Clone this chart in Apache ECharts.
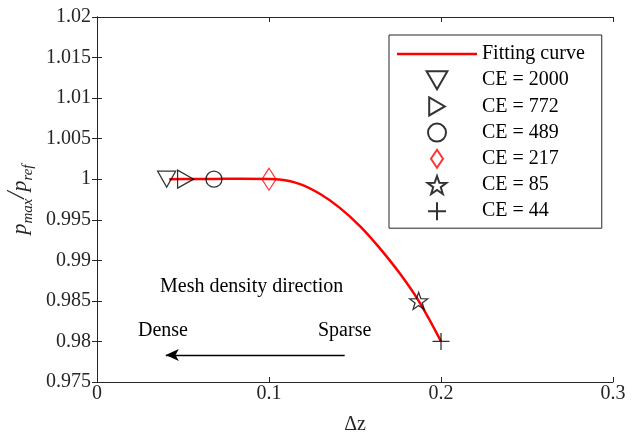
<!DOCTYPE html>
<html>
<head>
<meta charset="utf-8">
<script src="https://cdn.jsdelivr.net/npm/echarts@6/dist/echarts.min.js"></script>
<style>
  html, body { margin: 0; padding: 0; background: #fff; }
  #chart { width: 633px; height: 437px; }
</style>
</head>
<body>
<div id="chart"></div>
<script>
// Fitted curve of normalised peak pressure against grid spacing
const fitDz = [0.042, 0.055, 0.068, 0.083, 0.1, 0.106, 0.118, 0.13, 0.141, 0.153, 0.164, 0.176, 0.187, 0.2];
const fitP  = [1.0, 1.00002, 1.00004, 1.00005, 1.00002, 0.99996, 0.9994, 0.99815, 0.9965, 0.9942, 0.9916, 0.9884, 0.985, 0.98];

// Individual mesh cases
const caseNames = ['CE = 2000', 'CE = 772', 'CE = 489', 'CE = 217', 'CE = 85', 'CE = 44'];
const caseDz    = [0.0405, 0.0515, 0.068, 0.1, 0.187, 0.2];
const caseP     = [1.0, 1.0, 1.0, 1.0, 0.985, 0.98];

// Axis ticks
const xTicks = { min: 0, max: 0.3, step: 0.1 };
const yTicks = { min: 0.975, max: 1.02, step: 0.005 };

// Direction arrow (from sparse towards dense)
const arrowFrom = [0.144, 0.97833];
const arrowTo   = [0.040, 0.97833];

const FONT = 'Liberation Serif';
const AX = '#262626';

const markerStyles = [
  { symbol: 'path://M-10,-8.66L10,-8.66L0,8.66Z', size: [18, 16], color: '#000' },
  { symbol: 'path://M-8.66,-10L8.66,0L-8.66,10Z', size: [16, 18], color: '#000' },
  { symbol: 'circle', size: 16, color: '#000' },
  { symbol: 'path://M0,-15L10,0L0,15L-10,0Z', size: [14, 22], color: '#ff0000' },
  { symbol: 'path://M0,-100L23.5,-32.4L95.1,-30.9L38,12.4L58.8,80.9L0,40L-58.8,80.9L-38,12.4L-95.1,-30.9L-23.5,-32.4Z', size: [18, 17], color: '#000' },
  { symbol: 'path://M0,-10L0,10M-10,0L10,0', size: 17, color: '#000' }
];

const chart = echarts.init(document.getElementById('chart'), null, { renderer: 'canvas' });

const caseSeries = caseNames.map((name, i) => ({
  name: name,
  type: 'scatter',
  xAxisIndex: 0,
  yAxisIndex: 0,
  data: [[caseDz[i], caseP[i]]],
  symbol: markerStyles[i].symbol,
  symbolSize: markerStyles[i].size,
  itemStyle: {
    color: 'rgba(255,255,255,0)',
    borderColor: markerStyles[i].color,
    borderWidth: 1.3
  },
  emphasis: { disabled: true },
  z: 5
}));

const option = {
  animation: false,
  backgroundColor: '#fff',
  textStyle: { fontFamily: FONT },
  grid: { left: 97, right: 20, top: 17, bottom: 55, containLabel: false, outerBoundsMode: 'none' },
  legend: {
    orient: 'vertical',
    left: 389,
    top: 35,
    itemWidth: 80,
    itemHeight: 18,
    itemGap: 6.2,
    padding: [9, 17, 7, 8],
    borderColor: AX,
    borderWidth: 1,
    backgroundColor: '#fff',
    textStyle: { fontFamily: FONT, fontSize: 20, lineHeight: 18, color: '#000' },
    data: [
      { name: 'Fitting curve', icon: 'path://M0,0L80,0L80,2.5L0,2.5Z' }
    ].concat(caseNames),
    selectedMode: false
  },
  xAxis: [{
    type: 'value',
    min: xTicks.min, max: xTicks.max, interval: xTicks.step,
    name: 'Δz',
    nameLocation: 'middle',
    nameGap: 33,
    nameTextStyle: { fontFamily: FONT, fontSize: 20, color: AX },
    axisLine: { show: true, lineStyle: { color: AX, width: 1 } },
    axisTick: { show: true, inside: true, length: 5, lineStyle: { color: AX } },
    axisLabel: { fontFamily: FONT, fontSize: 20, color: AX, margin: 2 },
    splitLine: { show: false }
  }, {
    type: 'value', position: 'top',
    min: xTicks.min, max: xTicks.max, interval: xTicks.step,
    axisLine: { show: true, lineStyle: { color: AX, width: 1 } },
    axisTick: { show: true, inside: true, length: 5, lineStyle: { color: AX } },
    axisLabel: { show: false },
    splitLine: { show: false }
  }],
  yAxis: [{
    type: 'value',
    min: yTicks.min, max: yTicks.max, interval: yTicks.step,
    name: '{i|p}{s|max}{sl|/}{i|p}{s|ref}',
    nameLocation: 'middle',
    nameGap: 58,
    nameRotate: 90,
    nameTextStyle: {
      color: AX,
      rich: {
        i: { fontFamily: FONT, fontStyle: 'italic', fontSize: 22, lineHeight: 30, verticalAlign: 'middle', color: AX },
        s: { fontFamily: FONT, fontStyle: 'italic', fontSize: 15, lineHeight: 30, verticalAlign: 'bottom', color: AX },
        sl: { fontFamily: FONT, fontStyle: 'italic', fontSize: 25, lineHeight: 30, verticalAlign: 'top', color: AX }
      }
    },
    axisLine: { show: true, lineStyle: { color: AX, width: 1 } },
    axisTick: { show: true, inside: true, length: 5, lineStyle: { color: AX } },
    axisLabel: {
      fontFamily: FONT, fontSize: 20, color: AX, margin: 6,
      formatter: v => String(+v.toFixed(3))
    },
    splitLine: { show: false }
  }, {
    type: 'value', position: 'right',
    min: yTicks.min, max: yTicks.max, interval: yTicks.step,
    axisLine: { show: true, lineStyle: { color: AX, width: 1 } },
    axisTick: { show: true, inside: true, length: 5, lineStyle: { color: AX } },
    axisLabel: { show: false },
    splitLine: { show: false }
  }],
  series: [{
    name: 'Fitting curve',
    type: 'line',
    xAxisIndex: 0,
    yAxisIndex: 0,
    data: fitDz.map((x, i) => [x, fitP[i]]),
    smooth: 0.4,
    symbol: 'none',
    lineStyle: { color: '#ff0000', width: 2.5 },
    itemStyle: { color: '#ff0000' },
    emphasis: { disabled: true },
    z: 3,
    markLine: {
      silent: true,
      symbol: ['none', 'arrow'],
      symbolSize: [9, 13],
      label: { show: false },
      lineStyle: { color: '#000', width: 1.3, type: 'solid' },
      data: [[{ coord: arrowFrom }, { coord: arrowTo }]]
    }
  }].concat(caseSeries),
  graphic: [
    { type: 'text', x: 160, y: 287, style: { text: 'Mesh density direction', font: '20px "Liberation Serif"', fill: '#000', verticalAlign: 'middle' } },
    { type: 'text', x: 138, y: 331, style: { text: 'Dense', font: '20px "Liberation Serif"', fill: '#000', verticalAlign: 'middle' } },
    { type: 'text', x: 318, y: 331, style: { text: 'Sparse', font: '20px "Liberation Serif"', fill: '#000', verticalAlign: 'middle' } }
  ]
};

chart.setOption(option);
</script>
</body>
</html>
